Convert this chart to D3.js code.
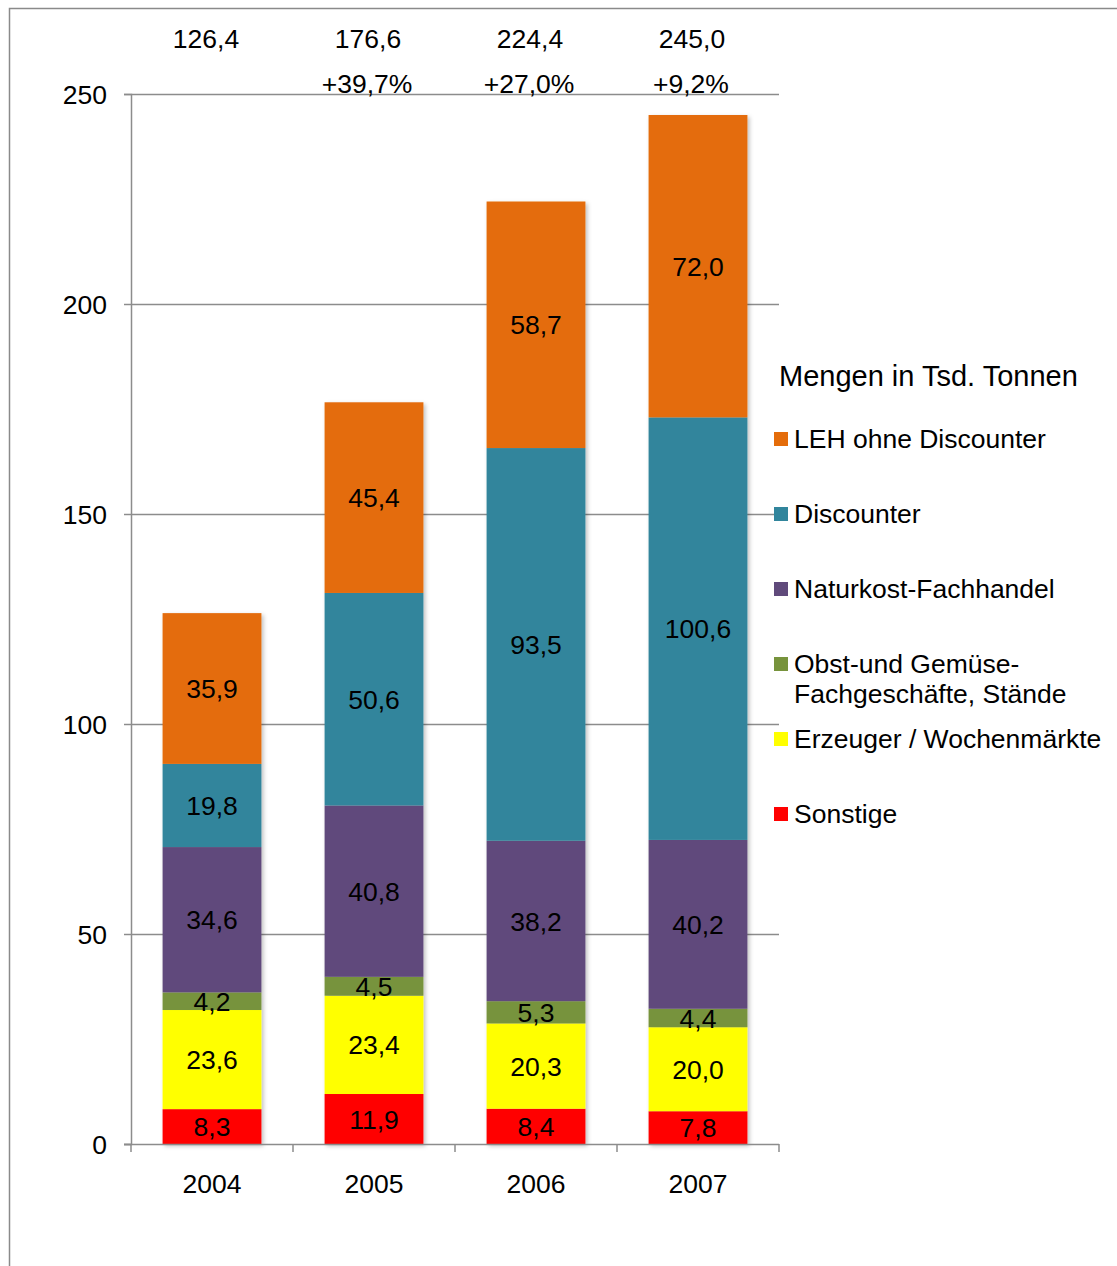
<!DOCTYPE html>
<html>
<head>
<meta charset="utf-8">
<script src="https://cdn.jsdelivr.net/npm/d3@7"></script>
<style>
  body { margin: 0; background: #fff; }
  svg { display: block; font-family: "Liberation Sans", Arial, sans-serif; }
</style>
</head>
<body>
<svg id="chart" width="1117" height="1266"></svg>
<script>
// Bio-Obst und -Gemüse: Absatzmengen nach Einkaufsstätten (Tsd. Tonnen)
const years = ["2004", "2005", "2006", "2007"];
const seriesNames = [
  "Sonstige",
  "Erzeuger / Wochenmärkte",
  "Obst-und Gemüse-Fachgeschäfte, Stände",
  "Naturkost-Fachhandel",
  "Discounter",
  "LEH ohne Discounter"
];
const sonstige     = [8.3, 11.9, 8.4, 7.8];
const erzeuger     = [23.6, 23.4, 20.3, 20.0];
const obstGemuese  = [4.2, 4.5, 5.3, 4.4];
const naturkost    = [34.6, 40.8, 38.2, 40.2];
const discounter   = [19.8, 50.6, 93.5, 100.6];
const lehOhneDisc  = [35.9, 45.4, 58.7, 72.0];
const totalLabels  = ["126,4", "176,6", "224,4", "245,0"];
const growthLabels = ["", "+39,7%", "+27,0%", "+9,2%"];
const yTicks = [0, 50, 100, 150, 200, 250];

const seriesValues = [sonstige, erzeuger, obstGemuese, naturkost, discounter, lehOhneDisc];
const colors = ["#FF0000", "#FFFF00", "#77933C", "#604A7B", "#31859C", "#E46C0A"];
const fs = 26.5;

const rows = years.map((yr, i) => {
  const r = { year: yr };
  seriesNames.forEach((s, k) => r[s] = seriesValues[k][i]);
  return r;
});
const stacked = d3.stack().keys(seriesNames)(rows);

const svg = d3.select("#chart");
const plotLeft = 131, plotRight = 779, plotTop = 94, plotBottom = 1144;

const x = d3.scaleBand().domain(years).range([plotLeft, plotRight])
  .paddingInner(0.39).paddingOuter(0.195);
const y = d3.scaleLinear().domain([0, 250]).range([plotBottom, plotTop]);

// frame
svg.append("path").attr("d", "M9.5,1266V8.5H1117")
  .attr("fill", "none").attr("stroke", "#8a8a8a").attr("stroke-width", 1.5);

const defs = svg.append("defs");
const f = defs.append("filter").attr("id", "shadow")
  .attr("x", "-10%").attr("y", "-10%").attr("width", "130%").attr("height", "130%");
f.append("feDropShadow").attr("dx", 2).attr("dy", 2).attr("stdDeviation", 2)
  .attr("flood-color", "#000").attr("flood-opacity", 0.25);

// gridlines
svg.append("g").selectAll("line").data(yTicks.filter(t => t > 0)).join("line")
  .attr("x1", plotLeft).attr("x2", plotRight)
  .attr("y1", d => Math.round(y(d)) + 0.5).attr("y2", d => Math.round(y(d)) + 0.5)
  .attr("stroke", "#8c8c8c").attr("stroke-width", 1.5);

// y axis
const yAxis = svg.append("g").attr("transform", `translate(${plotLeft},0)`)
  .call(d3.axisLeft(y).tickValues(yTicks).tickSize(7).tickPadding(17).tickFormat(d3.format("d")));
yAxis.select(".domain").attr("stroke", "#8c8c8c").attr("stroke-width", 1.5);
yAxis.selectAll(".tick line").attr("stroke", "#8c8c8c").attr("stroke-width", 1.5);
yAxis.selectAll("text").attr("font-size", fs).attr("fill", "#000")
  .attr("font-family", "Liberation Sans, Arial, sans-serif").attr("dy", "0.36em");

// bars
const barG = svg.append("g").attr("filter", "url(#shadow)");
stacked.forEach((layer, k) => {
  barG.append("g").attr("fill", colors[k]).selectAll("rect").data(layer).join("rect")
    .attr("x", d => x(d.data.year))
    .attr("width", x.bandwidth())
    .attr("y", d => y(d[1]))
    .attr("height", d => y(d[0]) - y(d[1]));
});

// x axis
const xAxisG = svg.append("g").attr("transform", `translate(0,${plotBottom})`);
xAxisG.append("line").attr("x1", plotLeft - 7).attr("x2", plotRight).attr("y1", 0.5).attr("y2", 0.5)
  .attr("stroke", "#8c8c8c").attr("stroke-width", 1.5);
const boundaries = years.map((yr, i) => plotLeft + i * x.step()).concat([plotRight]);
xAxisG.selectAll(".b").data(boundaries).join("line")
  .attr("x1", d => d).attr("x2", d => d).attr("y1", 0).attr("y2", 8)
  .attr("stroke", "#8c8c8c").attr("stroke-width", 1.5);
xAxisG.selectAll("text").data(years).join("text")
  .attr("x", d => x(d) + x.bandwidth() / 2)
  .attr("y", 49).attr("text-anchor", "middle").attr("font-size", fs).text(d => d);

// segment labels
const fmt = v => v.toFixed(1).replace(".", ",");
stacked.forEach((layer) => {
  svg.append("g").selectAll("text").data(layer).join("text")
    .attr("x", d => x(d.data.year) + x.bandwidth() / 2)
    .attr("y", d => (y(d[0]) + y(d[1])) / 2)
    .attr("dy", "0.36em").attr("text-anchor", "middle").attr("font-size", fs)
    .text(d => fmt(d[1] - d[0]));
});

// totals and growth
svg.append("g").selectAll("text").data(years).join("text")
  .attr("x", d => x(d) + x.bandwidth() / 2 - 6)
  .attr("y", 48).attr("text-anchor", "middle").attr("font-size", fs)
  .text((d, i) => totalLabels[i]);
svg.append("g").selectAll("text").data(years).join("text")
  .attr("x", d => x(d) + x.bandwidth() / 2 - 7)
  .attr("y", 93).attr("text-anchor", "middle").attr("font-size", fs)
  .text((d, i) => growthLabels[i]);

// legend
const lg = svg.append("g");
lg.append("text").attr("x", 779).attr("y", 386).attr("font-size", 29).text("Mengen in Tsd. Tonnen");
const legendItems = [
  { k: 5, lines: ["LEH ohne Discounter"], y: 448 },
  { k: 4, lines: ["Discounter"], y: 523 },
  { k: 3, lines: ["Naturkost-Fachhandel"], y: 598 },
  { k: 2, lines: ["Obst-und Gemüse-", "Fachgeschäfte, Stände"], y: 673 },
  { k: 1, lines: ["Erzeuger / Wochenmärkte"], y: 748 },
  { k: 0, lines: ["Sonstige"], y: 823 }
];
legendItems.forEach(it => {
  lg.append("rect").attr("x", 774).attr("y", it.y - 16).attr("width", 14).attr("height", 14)
    .attr("fill", colors[it.k]);
  const t = lg.append("text").attr("x", 794).attr("y", it.y).attr("font-size", fs);
  it.lines.forEach((ln, j) => t.append("tspan").attr("x", 794).attr("dy", j === 0 ? 0 : 30).text(ln));
});
</script>
</body>
</html>
